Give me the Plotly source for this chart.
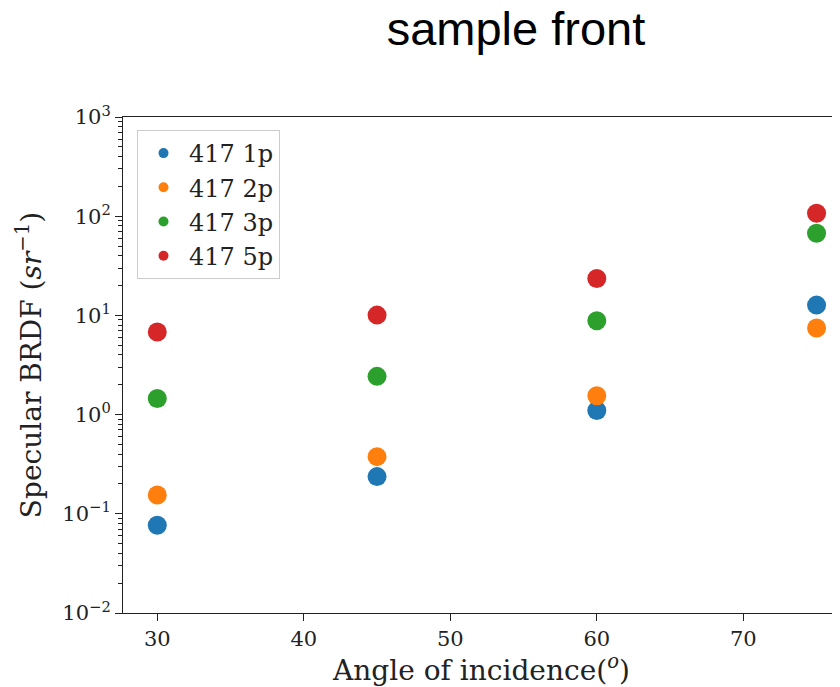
import plotly.graph_objects as go

angles = [30, 45, 60, 75]
series_names = ["417 1p", "417 2p", "417 3p", "417 5p"]
brdf_1p = [0.0766, 0.237, 1.10, 12.7]
brdf_2p = [0.155, 0.377, 1.55, 7.45]
brdf_3p = [1.45, 2.43, 8.83, 67.4]
brdf_5p = [6.79, 10.07, 23.5, 107.0]
colors = ["#1f77b4", "#ff7f0e", "#2ca02c", "#d62728"]

x_tickvals = [30, 40, 50, 60, 70]
y_exponents = [-2, -1, 0, 1, 2, 3]
y_ticktext = ["10<sup>\u22122</sup>", "10<sup>\u22121</sup>", "10<sup>0</sup>",
              "10<sup>1</sup>", "10<sup>2</sup>", "10<sup>3</sup>"]

all_series = [brdf_1p, brdf_2p, brdf_3p, brdf_5p]
SERIF = "DejaVu Serif"
INK = "#222222"

# page body has an 8px margin, so the figure is laid out 8px smaller
W, H = 832, 679
L, T, B = 115, 109, 74
PW, PH = W - L, H - T - B

fig = go.Figure()
for name, vals, col in zip(series_names, all_series, colors):
    fig.add_trace(go.Scatter(
        x=angles, y=vals, mode="markers", name=name,
        marker=dict(color=col, size=19, line=dict(width=0)),
        showlegend=False, legendgroup=name,
    ))
# legend-only entries with small symbols, like matplotlib's legend
for name, col in zip(series_names, colors):
    fig.add_trace(go.Scatter(
        x=[None], y=[None], mode="markers", name=name,
        marker=dict(color=col, size=10, line=dict(width=0)),
        showlegend=True, legendgroup=name,
    ))

minor_vals = [m * 10 ** e for e in range(-2, 3) for m in range(2, 10)]

fig.update_layout(
    width=W, height=H,
    margin=dict(l=L, r=0, t=T, b=B),
    paper_bgcolor="white", plot_bgcolor="white",
    font=dict(family=SERIF, color=INK),
    title=dict(text="sample front", x=(516 - 8) / W, xanchor="center",
               y=1 - 21 / H, yanchor="middle",
               font=dict(family="Liberation Sans, Arial", size=47, color="black")),
    showlegend=True,
    legend=dict(x=(137 - 123) / PW, y=(613 - 130) / PH, xanchor="left", yanchor="top",
                bgcolor="rgba(255,255,255,0.8)", bordercolor="#cccccc", borderwidth=1,
                font=dict(family=SERIF, size=24, color=INK),
                itemwidth=41, tracegroupgap=0),
    xaxis=dict(
        range=[27.66, 76.6], tickvals=x_tickvals,
        ticks="outside", ticklen=7, tickwidth=1.1, tickcolor=INK,
        showline=True, linecolor=INK, linewidth=1.1, mirror=True,
        showgrid=False, zeroline=False,
        tickfont=dict(family=SERIF, size=21, color=INK),
        title=dict(text="Angle of incidence(<sup><i>o</i></sup>)", standoff=1,
                   font=dict(family=SERIF, size=28, color=INK)),
    ),
    yaxis=dict(
        type="log", range=[-2, 3],
        tickvals=[10 ** e for e in y_exponents], ticktext=y_ticktext,
        ticks="outside", ticklen=7, tickwidth=1.1, tickcolor=INK,
        showline=True, linecolor=INK, linewidth=1.1,
        showgrid=False, zeroline=False,
        tickfont=dict(family=SERIF, size=21, color=INK),
        minor=dict(tickvals=minor_vals, ticks="outside", ticklen=4,
                   tickwidth=0.8, tickcolor=INK, showgrid=False),
        title=dict(text="Specular BRDF (<i>sr</i><sup>\u22121</sup>)", standoff=12,
                   font=dict(family=SERIF, size=28, color=INK)),
    ),
)

fig.write_html("out.html")
